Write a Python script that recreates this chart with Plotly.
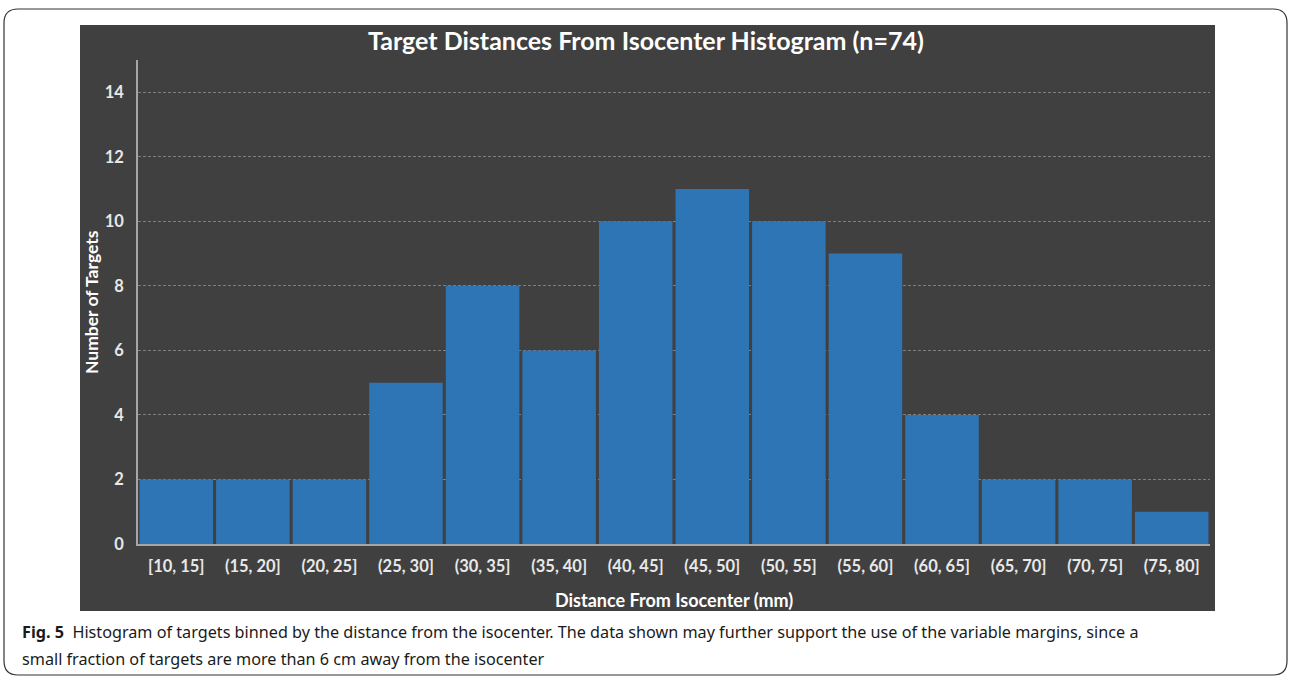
import plotly.graph_objects as go

categories = ["[10, 15]", "(15, 20]", "(20, 25]", "(25, 30]", "(30, 35]", "(35, 40]", "(40, 45]",
              "(45, 50]", "(50, 55]", "(55, 60]", "(60, 65]", "(65, 70]", "(70, 75]", "(75, 80]"]
counts = [2, 2, 2, 5, 8, 6, 10, 11, 10, 9, 4, 2, 2, 1]
y_ticks = [0, 2, 4, 6, 8, 10, 12, 14]

W, H = 1290, 676
L, R, T, B = 138, 1210, 60, 544
pw, ph = R - L, B - T

def px(x):
    return (x - L) / pw

def py(y):
    return (B - y) / ph

DARK = "#404040"
BLUE = "#2E75B6"
FONT = "Lato"

fig = go.Figure()
fig.add_trace(go.Bar(
    x=categories, y=counts,
    marker=dict(color=BLUE, line=dict(width=0)),
))

shapes = []
shapes.append(dict(type="rect", xref="paper", yref="paper",
                   x0=px(80), x1=px(1215), y0=py(611), y1=py(25),
                   fillcolor=DARK, line=dict(width=0), layer="below"))
r = 14
x0b, x1b, y0b, y1b = 4, 1287, 9, 675
path = (f"M {px(x0b+r)},{py(y0b)} L {px(x1b-r)},{py(y0b)} "
        f"Q {px(x1b)},{py(y0b)} {px(x1b)},{py(y0b+r)} "
        f"L {px(x1b)},{py(y1b-r)} Q {px(x1b)},{py(y1b)} {px(x1b-r)},{py(y1b)} "
        f"L {px(x0b+r)},{py(y1b)} Q {px(x0b)},{py(y1b)} {px(x0b)},{py(y1b-r)} "
        f"L {px(x0b)},{py(y0b+r)} Q {px(x0b)},{py(y0b)} {px(x0b+r)},{py(y0b)} Z")
shapes.append(dict(type="path", xref="paper", yref="paper", path=path,
                   line=dict(color="#333333", width=1.2), layer="below"))

annotations = [
    dict(text="Target Distances From Isocenter Histogram (n=74)", xref="paper", yref="paper",
         x=px(646), y=py(40), showarrow=False, xanchor="center", yanchor="middle",
         font=dict(family=FONT, size=25, color="white", weight="bold")),
    dict(text="Distance From Isocenter (mm)", xref="paper", yref="paper",
         x=px(674), y=py(600), showarrow=False, xanchor="center", yanchor="middle",
         font=dict(family=FONT, size=18, color="white", weight="bold")),
    dict(text="Number of Targets", xref="paper", yref="paper",
         x=px(91), y=py(302), showarrow=False, xanchor="center", yanchor="middle", textangle=-90,
         font=dict(family=FONT, size=17.5, color="white", weight="bold")),
    dict(text="<b>Fig. 5</b>  Histogram of targets binned by the distance from the isocenter. The data shown may further support the use of the variable margins, since a",
         xref="paper", yref="paper", x=px(20), y=py(632), showarrow=False, xanchor="left", yanchor="middle",
         font=dict(family="Noto Sans", size=16.2, color="#1a1a1a")),
    dict(text="small fraction of targets are more than 6 cm away from the isocenter",
         xref="paper", yref="paper", x=px(20), y=py(659), showarrow=False, xanchor="left", yanchor="middle",
         font=dict(family="Noto Sans", size=16.2, color="#1a1a1a")),
]

fig.update_layout(
    width=W, height=H,
    margin=dict(l=L, r=W - R, t=T, b=H - B, pad=0),
    paper_bgcolor="white", plot_bgcolor=DARK,
    bargap=0.04, showlegend=False,
    shapes=shapes, annotations=annotations,
    xaxis=dict(type="category", showgrid=False, showline=True, linecolor="#a6a6a6", linewidth=1.5,
               ticks="", tickfont=dict(family=FONT, size=16.5, color="#e8e8e8", weight="bold"),
               zeroline=False, ticklabelstandoff=6),
    yaxis=dict(range=[0, 15], tickvals=y_ticks, showgrid=True, gridcolor="rgba(190,190,190,0.5)",
               griddash="3px,2px", gridwidth=1, showline=True, linecolor="#a6a6a6", linewidth=1.5,
               ticks="", tickfont=dict(family=FONT, size=16.5, color="#e8e8e8", weight="bold"),
               zeroline=False, ticklabelstandoff=9, layer="above traces"),
)

fig.write_html("out.html", config={"displayModeBar": False},
               post_script="document.body.style.margin='0';document.body.style.overflow='hidden';")
